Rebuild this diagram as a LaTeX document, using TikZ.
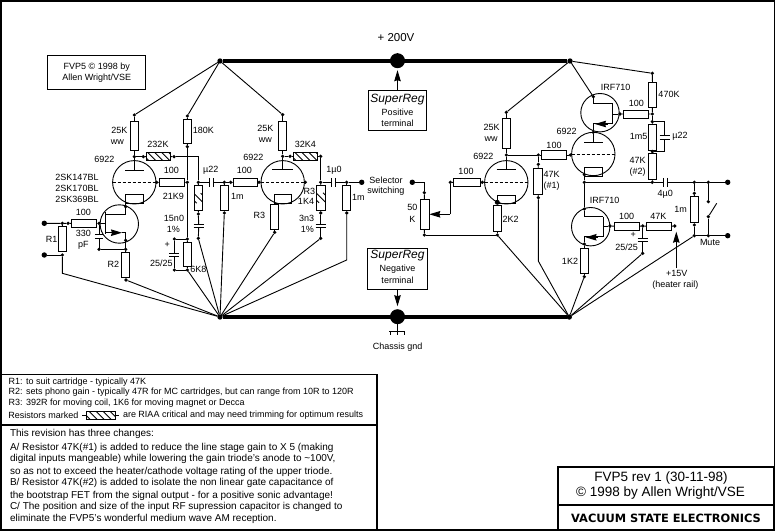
\documentclass[tikz,border=0pt]{standalone}
\usepackage{fontspec}
\setmainfont{Liberation Sans}
\newfontfamily\vsefont[Scale=1]{DejaVu Sans}
\usetikzlibrary{arrows.meta,calc}
\tikzset{
  wire/.style={line width=.9pt,line join=miter},
  rail/.style={line width=4pt},
  frameline/.style={line width=1.5pt},
  dotn/.style={circle,fill=black,inner sep=0pt,minimum size=3.6pt,outer sep=0pt},
  term/.style={circle,fill=black,inner sep=0pt,minimum size=5.4pt,outer sep=0pt},
  bigc/.style={circle,fill=black,inner sep=0pt,minimum size=15pt,outer sep=0pt},
  rv/.style={rectangle,draw,wire,fill=white,inner sep=0pt,outer sep=0pt,minimum width=8.2pt,minimum height=25pt},
  rh/.style={rectangle,draw,wire,fill=white,inner sep=0pt,outer sep=0pt,minimum width=25pt,minimum height=8.2pt},
  riaa/.style={path picture={\foreach \k in {-4,...,4}{\draw[wire,shift={(path picture bounding box.center)}] (\k*7-5,-5) -- (\k*7+5,5);}}},
  tube/.style={circle,draw,wire,inner sep=0pt,outer sep=0pt,minimum size=43.4pt},
  fet/.style={circle,draw,wire,inner sep=0pt,outer sep=0pt,minimum size=38.4pt},
  griddash/.style={wire,dash pattern=on 3pt off 2pt},
  capn/.style={inner sep=0pt,outer sep=0pt,fill=none},
  lbl/.style={inner sep=0pt,outer sep=0pt,font=\fontsize{9}{10}\selectfont,align=center},
  ltxt/.style={inner sep=0pt,outer sep=0pt,anchor=west},
  plainbox/.style={rectangle,draw,wire,fill=white,inner sep=0pt,outer sep=0pt},
  arrowline/.style={wire,-{Stealth[length=11pt,width=6.5pt,inset=1pt]}},
}
\newcommand{\Dt}[3]{\node[dotn] (#1) at (#2,#3) {};}
\newcommand{\Lb}[4]{\node[lbl] (#1) at (#2,#3) {#4};}
\newcommand{\CapV}[3]{\node[capn,minimum width=10pt,minimum height=3.6pt] (#1) at (#2,#3) {};\draw[wire] (#1.north west)--(#1.north east) (#1.south west)--(#1.south east);}
\newcommand{\CapH}[3]{\node[capn,minimum width=3.6pt,minimum height=8.6pt] (#1) at (#2,#3) {};\draw[wire] (#1.north west)--(#1.south west) (#1.north east)--(#1.south east);}
\begin{document}
\begin{tikzpicture}[x=1pt,y=-1pt]
\useasboundingbox (0,0) rectangle (777,532);
\fill[white] (0,0) rectangle (777,532);
\draw[frameline] (1,1) rectangle (774.5,530);

% rails
\node[bigc] (supT) at (397.5,60.7) {};
\node[bigc] (supB) at (397.5,316.7) {};
\node[term] (tl) at (220,61) {};
\node[term] (tr) at (570,61) {};
\node[term] (bl) at (220,317) {};
\node[term] (br) at (569.3,317) {};
\draw[rail] (tl) -- (tr);
\draw[rail] (bl) -- (br);
\Lb{l200}{396}{38}{\fontsize{11.5}{12}\selectfont + 200V}

% superreg boxes
\node[plainbox,minimum width=58.4pt,minimum height=39.6pt] (srp) at (397.5,110.5) {};
\node[plainbox,minimum width=60pt,minimum height=40.7pt] (srn) at (397.5,268.7) {};
\node[lbl,font=\fontsize{12}{12}\selectfont\itshape] (srp1) at (397.5,100) {SuperReg};
\Lb{srp2}{397.5}{112.7}{Positive}
\Lb{srp3}{397.5}{123.3}{terminal}
\node[lbl,font=\fontsize{12}{12}\selectfont\itshape] (srn1) at (397.5,255.7) {SuperReg};
\Lb{srn2}{397.5}{269}{Negative}
\Lb{srn3}{397.5}{280}{terminal}
\draw[arrowline,shorten >=2pt] (srp.north) -- (supT);
\draw[arrowline,shorten >=3pt] (srn.south) -- (supB);
% ground
\coordinate (gnd) at (397.5,331.7);
\draw[wire] (supB) -- (gnd);
\draw[line width=1.5pt] (389.3,331.7) -- (405,331.7);
\draw[wire] (390,331.7)--(390,335) (397.5,331.7)--(397.5,335) (404.5,331.7)--(404.5,335);
\Lb{lgnd}{397.7}{346.7}{Chassis gnd}

% FVP5 box
\node[plainbox,minimum width=98pt,minimum height=33.3pt] (fvp) at (96.7,72.6) {};
\Lb{fvp1}{96.7}{67.3}{FVP5 © 1998 by}
\Lb{fvp2}{96.7}{77.7}{Allen Wright/VSE}

% ===== input stage tube / FET
\Dt{a1}{134.3}{115}
\node[rv,minimum height=29.4pt] (r25a) at (134.3,136) {};
\draw[wire] (tl) -- (a1);
\draw[wire] (a1) -- (r25a);
\Dt{a2}{134.3}{156.7}
\draw[wire] (r25a) -- (a2);
\node[tube] (t1) at (134.3,182.3) {};
\draw[griddash] (t1.west) -- (t1.east);
\coordinate (p1) at (134.3,170);
\draw[wire] (125,170) -- (143.5,170);
\draw[wire] (a2) -- (p1);
\node[plainbox,fill=none,minimum width=17.6pt,minimum height=8.6pt] (k1) at (134.5,199) {};
\Dt{a3}{143.3}{156.7}
\draw[wire] (a2) -- (a3);
\node[rh,minimum width=24pt,riaa] (r232) at (158.7,156.5) {};
\draw[wire] (a3) -- (r232);
\Dt{a4}{174}{156.7}
\draw[wire] (r232) -- (a4);
\Dt{g2}{156.7}{182.3}
\draw[wire] (t1.east) -- (g2);
\node[rh] (r100a) at (172,182.5) {};
\draw[wire] (g2) -- (r100a);
\Dt{n1}{187.3}{182.3}
\draw[wire] (r100a) -- (n1);
\Dt{n2}{187.3}{116}
\node[rv,minimum height=24pt] (r180) at (187.6,131.3) {};
\draw[wire] (tl) -- (n2);
\draw[wire] (n2) -- (r180);
\Dt{n3}{187.3}{146.7}
\draw[wire] (r180) -- (n3);
\Dt{n4}{187.3}{239}
\draw[wire] (n3) -- (n1) -- (n4);
\node[rv,minimum height=24.4pt] (r68) at (187.6,254.5) {};
\draw[wire] (n4) -- (r68);
\Dt{n5}{187.3}{270}
\draw[wire] (r68) -- (n5);
\draw[wire] (n5) -- (bl);
\Dt{n6}{174.3}{239}
\Dt{n7}{174.3}{270}
\CapV{c25a}{174.3}{255}
\draw[wire] (n4) -- (n6) -- (c25a.north);
\draw[wire] (n5) -- (n7) -- (c25a.south);
% RIAA R and C
\Dt{n8}{198.3}{182.3}
\draw[wire] (a4) -| (n8);
\node[rv,riaa] (rr1) at (198.7,198.2) {};
\draw[wire] (n8) -- (rr1);
\Dt{n9}{198.3}{214}
\draw[wire] (rr1) -- (n9);
\CapV{c15}{198.7}{225.8}
\draw[wire] (n9) -- (c15.north);
\Dt{n10}{198.3}{238.3}
\draw[wire] (c15.south) -- (n10);
\draw[wire] (n10) -- (bl);
% u22
\CapH{c22}{211.7}{182.3}
\draw[wire] (n8) -- (c22.west);
\Dt{n11}{224.3}{182.3}
\draw[wire] (c22.east) -- (n11);
\Dt{n12}{230.7}{182.3}
\draw[wire] (n11) -- (n12);
\node[rv] (r1ma) at (224.7,197.8) {};
\draw[wire] (n11) -- (r1ma);
\Dt{n13}{224.3}{213}
\draw[wire] (r1ma) -- (n13);
\draw[wire] (n13) -- (bl);
\node[rh,minimum width=24.4pt] (r100b) at (245.5,182.5) {};
\draw[wire] (n12) -- (r100b);
% FET 1
\node[fet] (q1) at (119.3,224) {};
\node[rh,minimum width=25.4pt] (r100c) at (84,223.5) {};
\Dt{q1g}{99}{223.3}
\draw[wire] (r100c) -- (q1g);
\coordinate (q1c) at (105.7,223.3);
\draw[wire] (q1g) -- (q1c);
\draw[line width=1.3pt] (105.7,212.5) -- (105.7,234);
\coordinate (q1d) at (125.7,214.3);
\coordinate (q1s) at (125.7,232.7);
\Dt{q1dt}{125.7}{206.7}
\Dt{q1st}{125.7}{240.3}
\draw[wire] (105.7,214.3) -- (q1d) -- (125.7,203.3);
\draw[wire] (105.7,232.7) -- (112,232.7);
\draw[arrowline] (110,232.7) -- (122,232.7);
\draw[wire] (122,232.7) -- (q1s);
\Dt{n14}{125.7}{249.3}
\draw[wire] (q1s) -- (n14);
\Dt{n15}{99}{249.3}
\node[capn,minimum width=8.4pt,minimum height=4.6pt] (c330) at (99,236.5) {};
\draw[wire] (c330.north west)--(c330.north east) (c330.south west)--(c330.south east);
\draw[wire] (q1g) -- (c330.north);
\draw[wire] (c330.south) -- (n15);
\draw[wire] (n15) -- (n14);
\node[rv] (r2) at (125.5,264.8) {};
\draw[wire] (n14) -- (r2);
\Dt{n16}{126}{280}
\draw[wire] (r2) -- (n16);
\draw[wire] (n16) -- (bl);
% R1
\node[term] (in1) at (44.3,223.3) {};
\node[term] (in2) at (44.3,255) {};
\Dt{n17}{62.3}{223.3}
\Dt{n18}{68}{223.3}
\Dt{n19}{62.3}{255}
\draw[wire] (in1) -- (n17) -- (n18) -- (r100c);
\draw[wire] (in2) -- (n19);
\node[rv] (r1) at (62.7,239.2) {};
\draw[wire] (n17) -- (r1);
\coordinate (v1) at (62.3,273.3);
\draw[wire] (n19) -- (v1) -- (bl);

% ===== second tube
\node[tube] (t2) at (282.7,182.3) {};
\draw[griddash] (t2.west) -- (t2.east);
\draw[wire] (272,169.3) -- (293,169.3);
\Dt{t2g}{259}{182.3}
\Dt{t2gr}{305.3}{182.3}
\draw[wire] (r100b) -- (t2g) -- (t2.west);
\Dt{a5}{282.7}{114.7}
\node[rv,minimum height=29pt] (r25b) at (282.7,135.8) {};
\draw[wire] (tl) -- (a5);
\draw[wire] (a5) -- (r25b);
\Dt{a6}{282.7}{156.3}
\draw[wire] (r25b) -- (a6);
\coordinate (p2) at (282.7,169.3);
\draw[wire] (a6) -- (p2);
\Dt{a7}{290}{156.3}
\draw[wire] (a6) -- (a7);
\node[rh,minimum width=24pt,riaa] (r32) at (305.7,156.3) {};
\draw[wire] (a7) -- (r32);
\Dt{a8}{320.7}{156.3}
\draw[wire] (r32) -- (a8);
\Dt{n20}{320.7}{182.3}
\draw[wire] (a8) -- (n20);
\node[plainbox,fill=none,minimum width=16.6pt,minimum height=9pt] (k2) at (283,198.8) {};
\node[rv] (r3) at (274.7,216.8) {};
\draw[wire] (k2.south west) -- (r3.north -| k2.south west);
\Dt{n21}{274.7}{232.3}
\draw[wire] (r3) -- (n21);
\draw[wire] (n21) -- (bl);
\node[rv,minimum width=8.6pt,riaa] (r14) at (321,197.8) {};
\draw[wire] (n20) -- (r14);
\Dt{n22}{320.7}{213}
\draw[wire] (r14) -- (n22);
\CapV{c33}{320.7}{226}
\draw[wire] (n22) -- (c33.north);
\Dt{n23}{320.7}{238.3}
\draw[wire] (c33.south) -- (n23);
\draw[wire] (n23) -- (bl);
\CapH{c10}{333.7}{182.3}
\draw[wire] (n20) -- (c10.west);
\Dt{n24}{346.7}{182.3}
\node[term] (outa) at (361.7,182.3) {};
\draw[wire] (c10.east) -- (n24) -- (outa);
\node[rv] (r1mb) at (346.7,197.8) {};
\draw[wire] (n24) -- (r1mb);
\Dt{n25}{346.7}{213}
\draw[wire] (r1mb) -- (n25);
\coordinate (v2) at (346.7,260);
\draw[wire] (n25) -- (v2) -- (bl);

% ===== line stage
\node[term] (ina) at (412.3,182.3) {};
\Dt{n30}{424.3}{192.7}
\draw[wire] (ina) -| (n30);
\node[rv,minimum width=9pt,minimum height=30pt] (pot) at (424.8,214.3) {};
\draw[wire] (n30) -- (pot);
\Dt{n31}{424.3}{235}
\draw[wire] (pot) -- (n31);
\Dt{n32}{450.3}{182.3}
\coordinate (w1) at (450.3,214.3);
\draw[wire] (n32) -- (w1);
\draw[arrowline] (w1) -- (pot.east);
\node[rh,minimum width=26.7pt] (r100d) at (466.7,182.5) {};
\draw[wire] (n32) -- (r100d);
\Dt{n33}{482.3}{182.3}
\draw[wire] (r100d) -- (n33);
\node[tube] (t3) at (506.3,182.3) {};
\draw[griddash] (t3.west) -- (t3.east);
\draw[wire] (n33) -- (t3.west);
\draw[wire] (496.7,169) -- (516,169);
\node[plainbox,fill=none,minimum width=18pt,minimum height=7.6pt] (k3) at (506.3,199.5) {};
\node[dotn,minimum size=5pt] (n34) at (497.3,202.3) {};
\node[rv,minimum height=25.7pt] (r22) at (497.3,218.8) {};
\draw[wire] (n34) -- (r22);
\Dt{n35}{497.3}{235}
\draw[wire] (r22) -- (n35);
\draw[wire] (n31) -- (n35);
\draw[wire] (n35) -- (br);
\Dt{a10}{506.3}{112.3}
\node[rv,minimum height=30pt] (r25c) at (506.3,133.3) {};
\draw[wire] (tr) -- (a10);
\draw[wire] (a10) -- (r25c);
\Dt{a11}{506.3}{155}
\draw[wire] (r25c) -- (a11);
\draw[wire] (a11) -- (506.3,169);
\Dt{a12}{538.3}{155}
\draw[wire] (a11) -- (a12);
\node[rh,minimum width=25.4pt] (r100e) at (554,155) {};
\draw[wire] (a12) -- (r100e);
\Dt{a13}{538.3}{164.3}
\draw[wire] (a12) -- (a13);
\node[rv,minimum width=8.6pt,minimum height=25.6pt] (r47a) at (538,181.5) {};
\draw[wire] (a13) -- (r47a);
\Dt{a14}{538.3}{197.7}
\draw[wire] (r47a) -- (a14);
\coordinate (v3) at (538.3,261);
\draw[wire] (a14) -- (v3) -- (br);
\Dt{a15}{570.3}{155}
\draw[wire] (r100e) -- (a15);

% upper tube and FET
\node[tube] (t4) at (593.3,154) {};
\draw[griddash] (t4.west) -- (t4.east);
\draw[wire] (a15) -- (t4.west);
\draw[wire] (584,142.3) -- (603.3,142.3);
\Dt{a16}{593.3}{132.3}
\draw[wire] (a16) -- (593.3,142.3);
\node[plainbox,fill=none,minimum width=18.4pt,minimum height=8.4pt] (k4) at (593.5,171.8) {};
\Dt{a17}{584.3}{174.7}
\node[fet] (q2) at (600,112.7) {};
\Dt{a18}{593.3}{96.7}
\draw[wire] (tr) -- (a18);
\draw[wire] (a18) -- (593.3,103.3) -- (612.7,103.3);
\draw[line width=1.3pt] (612.7,103.3) -- (612.7,123.3);
\draw[wire] (593.3,123.3) -- (612.7,123.3);
\draw[wire] (a16) -- (593.3,123.3);
\draw[arrowline] (607.5,124) -- (595,124);
\Dt{a19}{620}{114}
\draw[wire] (612.7,114) -- (a19);
\node[rh,minimum width=25.4pt] (r100f) at (636,114.2) {};
\draw[wire] (a19) -- (r100f);
\Dt{a20}{652.3}{114}
\draw[wire] (r100f) -- (a20);
\Dt{a21}{652.3}{73.3}
\draw[wire] (tr) -- (a21);
\node[rv,minimum width=8pt,minimum height=25.4pt] (r470) at (652.7,95) {};
\draw[wire] (a21) -- (r470);
\draw[wire] (r470) -- (a20);
\Dt{a22}{652.3}{121.7}
\draw[wire] (a20) -- (a22);
\node[rv,minimum width=8pt,minimum height=25.4pt] (r15) at (652.7,137.4) {};
\draw[wire] (a22) -- (r15);
\Dt{a23}{652.3}{151.7}
\draw[wire] (r15) -- (a23);
\CapV{c22b}{664.7}{137.4}
\draw[wire] (a22) -| (c22b.north);
\draw[wire] (a23) -| (c22b.south);
\node[rv,minimum width=8pt,minimum height=26pt] (r47b) at (652.7,166.3) {};
\draw[wire] (a23) -- (r47b);
\Dt{a24}{652.3}{182.3}
\draw[wire] (r47b) -- (a24);
% output
\Dt{a25}{584.3}{182.3}
\Dt{a26}{584.3}{209}
\draw[wire] (a17) -- (a25) -- (a26);
\CapH{c40}{665.5}{182.3}
\draw[wire] (a25) -- (a24) -- (c40.west);
\Dt{a27}{694.3}{182.3}
\Dt{a28}{708.3}{182.3}
\node[term] (outb) at (727.7,182.3) {};
\draw[wire] (c40.east) -- (a27) -- (a28) -- (outb);
\Dt{a29}{694.3}{193.3}
\draw[wire] (a27) -- (a29);
\node[rv,minimum height=26.4pt] (r1mc) at (694.5,209.2) {};
\draw[wire] (a29) -- (r1mc);
\Dt{a30}{694.3}{225}
\draw[wire] (r1mc) -- (a30);
\Dt{a31}{694.3}{235.7}
\draw[wire] (a30) -- (a31);
\Dt{a32}{708.3}{235.7}
\node[term] (outc) at (727.7,235.7) {};
\draw[wire] (a31) -- (a32) -- (outc);
\draw[wire] (a31) -- (br);
\Dt{sw1}{708.3}{201.7}
\Dt{sw2}{708.3}{216.7}
\coordinate (sw3) at (716.7,203.3);
\draw[wire] (a28) -- (sw1);
\draw[wire] (sw2) -- (a32);
\draw[wire] (sw2) -- (sw3);
% lower FET
\node[fet] (q3) at (590.7,226.7) {};
\draw[wire] (a26) -- (584.3,216.7) -- (603.3,216.7);
\draw[line width=1.3pt] (603.3,216.7) -- (603.3,236.7);
\Dt{a33}{584.3}{244}
\draw[wire] (a33) -- (584.3,236.7) -- (603.3,236.7);
\draw[arrowline] (598,237.3) -- (585.5,237.3);
\Dt{a34}{610}{226}
\draw[wire] (603.3,226) -- (a34);
\node[rh,minimum width=25.4pt] (r100g) at (627,226.6) {};
\draw[wire] (a34) -- (r100g);
\Dt{a35}{642.7}{226}
\draw[wire] (r100g) -- (a35);
\node[rh,minimum width=25.4pt] (r47c) at (659,226.6) {};
\draw[wire] (a35) -- (r47c);
\Dt{a36}{674.7}{226}
\draw[wire] (r47c) -- (a36);
\CapV{c25b}{642.7}{240}
\draw[wire] (a35) -- (c25b.north);
\Dt{a37}{642.7}{253.3}
\draw[wire] (c25b.south) -- (a37);
\draw[wire] (a37) -- (br);
\coordinate (v15) at (676.3,268);
\coordinate (v16) at (676.3,231.7);
\draw[arrowline] (v15) -- (v16);
\node[rv] (r12) at (584.3,260.8) {};
\draw[wire] (a33) -- (r12);
\Dt{a38}{584.3}{276.7}
\draw[wire] (r12) -- (a38);
\draw[wire] (a38) -- (br);

% labels
\Lb{b1}{119.3}{130.7}{25K}
\Lb{b2}{117.3}{142.3}{ww}
\Lb{b3}{158}{144.3}{232K}
\Lb{b4}{104.3}{159.3}{6922}
\Lb{b5}{171.3}{170.7}{100}
\Lb{b6}{173.3}{196.7}{21K9}
\Lb{b7}{77}{177.3}{2SK147BL}
\Lb{b8}{77}{188.3}{2SK170BL}
\Lb{b9}{77}{199.3}{2SK369BL}
\Lb{b10}{83.3}{212.7}{100}
\Lb{b11}{83.3}{233.3}{330}
\Lb{b12}{83.3}{245}{pF}
\Lb{b13}{51.7}{239}{R1}
\Lb{b14}{113.3}{264}{R2}
\Lb{b15}{174}{218.3}{15n0}
\Lb{b16}{173.3}{229.3}{1\%}
\Lb{b17}{167.3}{245}{+}
\Lb{b18}{161.3}{263.3}{25/25}
\Lb{b19}{198.3}{269.3}{6K8}
\Lb{b20}{203.3}{130.7}{180K}
\Lb{b21}{210.7}{170.7}{µ22}
\Lb{b22}{237.3}{196}{1m}
\Lb{b23}{244.3}{170.3}{100}
\Lb{b24}{253.3}{157.3}{6922}
\Lb{b25}{265.3}{128.3}{25K}
\Lb{b26}{265.3}{140}{ww}
\Lb{b27}{305.3}{144.3}{32K4}
\Lb{b28}{309.3}{191.7}{R3}
\Lb{b29}{306}{201.7}{1K4}
\Lb{b30}{306.7}{218.3}{3n3}
\Lb{b31}{307.3}{229.7}{1\%}
\Lb{b32}{334}{170}{1µ0}
\Lb{b33}{358.3}{197.7}{1m}
\Lb{b34}{259.3}{215.3}{R3}
\Lb{b35}{386}{180}{Selector}
\Lb{b36}{386}{191}{switching}
\Lb{c1}{491.7}{127.7}{25K}
\Lb{c2}{491}{139}{ww}
\Lb{c3}{483.3}{156.3}{6922}
\Lb{c4}{466}{171.7}{100}
\Lb{c5}{412.3}{207.7}{50}
\Lb{c6}{412.3}{219}{K}
\Lb{c7}{510.7}{219}{2K2}
\Lb{c8}{566.7}{131.3}{6922}
\Lb{c9}{554}{145.3}{100}
\Lb{c10}{551.7}{174.7}{47K}
\Lb{c11}{551.7}{186}{(\#1)}
\Lb{c12}{570}{261}{1K2}
\Lb{d1}{615.7}{87.3}{IRF710}
\Lb{d2}{636.3}{103.3}{100}
\Lb{d3}{669}{94.7}{470K}
\Lb{d4}{638.7}{136.7}{1m5}
\Lb{d5}{680}{136}{µ22}
\Lb{d6}{637.7}{160.3}{47K}
\Lb{d7}{637.7}{171.7}{(\#2)}
\Lb{d8}{665.3}{194.3}{4µ0}
\Lb{d9}{604.7}{200.7}{IRF710}
\Lb{d10}{680.7}{209}{1m}
\Lb{d11}{626.7}{216.7}{100}
\Lb{d12}{658.3}{216.7}{47K}
\Lb{d13}{626.7}{247.7}{25/25}
\Lb{d14}{633.3}{235}{+}
\Lb{d15}{710}{242.7}{Mute}
\Lb{d16}{676.7}{273.7}{+15V}
\Lb{d17}{675.3}{285}{(heater rail)}

% notes
\node[plainbox,frameline,fill=none,minimum width=376pt,minimum height=50.5pt,anchor=north west] (nbox1) at (1,374.5) {};
\node[plainbox,frameline,fill=none,minimum width=376pt,minimum height=105pt,anchor=north west] (nbox2) at (1,425) {};
\begin{scope}[every node/.append style={font=\fontsize{9}{10}\selectfont}]
\node[ltxt] (e1) at (8.7,381.7) {R1: to suit cartridge - typically 47K};
\node[ltxt] (e2) at (8.7,392.3) {R2: sets phono gain - typically 47R for MC cartridges, but can range from 10R to 120R};
\node[ltxt] (e3) at (8.7,403.3) {R3: 392R for moving coil, 1K6 for moving magnet or Decca};
\node[ltxt] (e4) at (8.3,415.5) {Resistors marked};
\node[ltxt] (e5) at (123,415.5) {are RIAA critical and may need trimming for optimum results};
\end{scope}
\node[rh,minimum width=29pt,minimum height=8pt,riaa] (mk) at (100.5,415.7) {};
\coordinate (mkl) at (82,415.7);
\coordinate (mkr) at (119,415.7);
\draw[wire] (mkl) -- (mk) -- (mkr);
\begin{scope}[every node/.append style={font=\fontsize{10}{11}\selectfont}]
\node[ltxt] (f1) at (10,434) {This revision has three changes:};
\node[ltxt] (f2) at (10,447.7) {A/ Resistor 47K(\#1) is added to reduce the line stage gain to X 5 (making};
\node[ltxt] (f3) at (10,459.3) {digital inputs mangeable) while lowering the gain triode's anode to \textasciitilde100V,};
\node[ltxt] (f4) at (10,471.7) {so as not to exceed the heater/cathode voltage rating of the upper triode.};
\node[ltxt] (f5) at (10,483.3) {B/ Resistor 47K(\#2) is added to isolate the non linear gate capacitance of};
\node[ltxt] (f6) at (10,496) {the bootstrap FET from the signal output - for a positive sonic advantage!};
\node[ltxt] (f7) at (10,507.3) {C/ The position and size of the input RF supression capacitor is changed to};
\node[ltxt] (f8) at (10,519.3) {eliminate the FVP5's wonderful medium wave AM reception.};
\end{scope}

% title box
\node[plainbox,frameline,fill=none,minimum width=216pt,minimum height=38pt,anchor=north west] (tb1) at (558,467) {};
\node[plainbox,frameline,fill=none,minimum width=216pt,minimum height=25pt,anchor=north west] (tb2) at (558,505) {};
\node[lbl,font=\fontsize{13.5}{14}\selectfont] (t1a) at (661,478.3) {FVP5 rev 1 (30-11-98)};
\node[lbl,font=\fontsize{13.5}{14}\selectfont] (t1b) at (660.5,493.3) {© 1998 by Allen Wright/VSE};
\node[lbl,font=\vsefont\bfseries\fontsize{11.4}{12}\selectfont] (t1c) at (666,518.3) {VACUUM STATE ELECTRONICS};
\end{tikzpicture}
\end{document}
